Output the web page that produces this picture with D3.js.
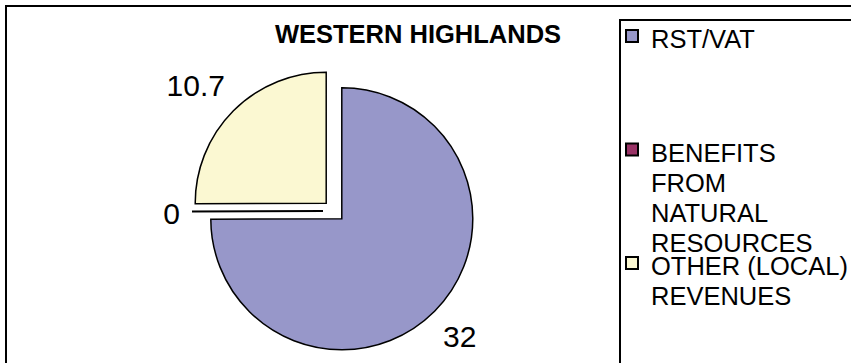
<!DOCTYPE html>
<html>
<head>
<meta charset="utf-8">
<script src="https://cdn.jsdelivr.net/npm/d3@7"></script>
<style>
  html, body { margin: 0; padding: 0; background: #fff; }
  svg { display: block; font-family: "Liberation Sans", Arial, Helvetica, sans-serif; }
</style>
</head>
<body>
<svg id="chart" width="851" height="363"></svg>
<script>
// ---- data ----
const title = "WESTERN HIGHLANDS";
const categories = ["RST/VAT", "BENEFITS FROM NATURAL RESOURCES", "OTHER (LOCAL) REVENUES"];
const legendLines = [["RST/VAT"], ["BENEFITS", "FROM", "NATURAL", "RESOURCES"], ["OTHER (LOCAL)", "REVENUES"]];
const values = [32, 0, 10.7];
const valueLabels = ["32", "0", "10.7"];
const colors = ["#9797c9", "#993366", "#fbf8d2"];

// ---- layout ----
const svg = d3.select("#chart");
const W = 851, H = 363;
const cx = 334, cy = 211, r = 131, explode = 11;

// outer frame
svg.append("rect").attr("x", 6).attr("y", 6).attr("width", W + 20).attr("height", H + 20)
  .attr("fill", "#fff").attr("stroke", "#000").attr("stroke-width", 2);

// title
svg.append("text").attr("x", 418).attr("y", 43).attr("text-anchor", "middle")
  .attr("font-size", 25.5).attr("font-weight", "bold").attr("fill", "#000").text(title);

// pie
const pie = d3.pie().sort(null).startAngle(0).endAngle(2 * Math.PI);
const arcs = pie(values);
const arc = d3.arc().innerRadius(0).outerRadius(r);
const g = svg.append("g").attr("transform", `translate(${cx},${cy})`);

g.selectAll("path.slice").data(arcs).join("path")
  .attr("class", "slice")
  .attr("d", arc)
  .attr("transform", d => {
    const a = (d.startAngle + d.endAngle) / 2;
    return `translate(${Math.sin(a) * explode},${-Math.cos(a) * explode})`;
  })
  .attr("fill", (d, i) => colors[i])
  .attr("stroke", "#000")
  .attr("stroke-width", (d) => d.endAngle - d.startAngle === 0 ? 2 : 1.5)
  .attr("stroke-linejoin", "miter");

// value labels
const labelR = r + explode + 12;
const fs = 30;
g.selectAll("text.val").data(arcs).join("text")
  .attr("class", "val")
  .attr("font-size", fs)
  .attr("fill", "#000")
  .each(function (d, i) {
    const a = (d.startAngle + d.endAngle) / 2;
    const s = Math.sin(a), c = Math.cos(a);
    const lx = s * labelR, ly = -c * labelR;
    let anchor = "middle";
    if (s < -0.1) anchor = "end"; else if (s > 0.1) anchor = "start";
    let y;
    if (c > 0.1) y = ly - 0.21 * fs;        // above
    else if (c < -0.1) y = ly + 0.905 * fs; // below
    else y = ly + 0.4 * fs;                 // middle
    d3.select(this).attr("x", lx).attr("y", y).attr("text-anchor", anchor).text(valueLabels[i]);
  });

// legend box
svg.append("rect").attr("x", 620).attr("y", 20).attr("width", 400).attr("height", 400)
  .attr("fill", "#fff").attr("stroke", "#000").attr("stroke-width", 2);

const legendY = d3.scaleLinear().domain([0, categories.length - 1]).range([48, 275]);
const lineH = 30;
const lg = svg.append("g");
categories.forEach((cat, i) => {
  const by = legendY(i);
  lg.append("rect").attr("x", 626).attr("y", by - 18).attr("width", 12).attr("height", 12)
    .attr("fill", colors[i]).attr("stroke", "#000").attr("stroke-width", 2);
  const t = lg.append("text").attr("x", 651).attr("y", by).attr("font-size", 25.5).attr("fill", "#000");
  legendLines[i].forEach((ln, j) => {
    t.append("tspan").attr("x", 651).attr("y", by + j * lineH).text(ln);
  });
});
</script>
</body>
</html>
